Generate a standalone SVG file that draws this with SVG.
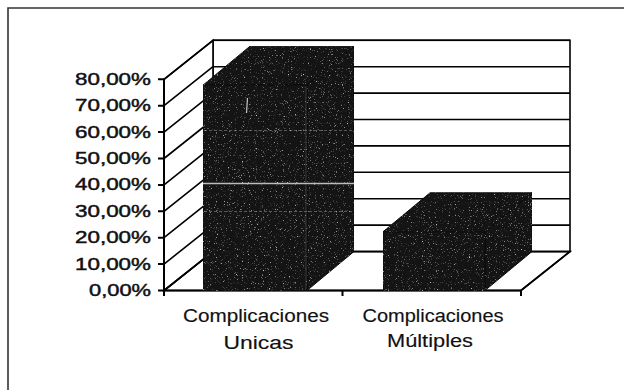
<svg xmlns="http://www.w3.org/2000/svg" width="624" height="390" viewBox="0 0 624 390">
  <defs>
    <filter id="speck" x="0" y="0" width="100%" height="100%" color-interpolation-filters="sRGB">
      <feTurbulence type="fractalNoise" baseFrequency="0.85" numOctaves="2" seed="7" result="noise"/>
      <feColorMatrix in="noise" type="matrix" values="0 0 0 0 0.8  0 0 0 0 0.8  0 0 0 0 0.8  4 0 0 0 -2.5" result="dots"/>
      <feComposite in="dots" in2="SourceAlpha" operator="in" result="d2"/>
      <feMerge><feMergeNode in="SourceGraphic"/><feMergeNode in="d2"/></feMerge>
    </filter>
  </defs>
  <style>
    .frame { fill: none; stroke: #333; stroke-width: 1.6; }
    .wall { fill: #fff; stroke: #000; stroke-width: 1.6; }
    .grid { stroke: #000; stroke-width: 1.6; fill: none; }
    .axis { stroke: #000; stroke-width: 2; fill: none; }
    .bar { fill: #141414; stroke: #0a0a0a; stroke-width: 1; }
    .sheen { stroke: #d8d8d8; fill: none; }
    .ylab { font-family: "Liberation Sans", Arial, sans-serif; font-size: 16.5px; fill: #111; text-anchor: end; stroke: #111; stroke-width: 0.45; }
    .xlab { font-family: "Liberation Sans", Arial, sans-serif; font-size: 17.5px; fill: #111; text-anchor: middle; stroke: #111; stroke-width: 0.15; }
  </style>

  <rect width="624" height="390" fill="#fff"/>

  <g id="frame">
    <path class="frame" d="M8,390 V8 H624"/>
  </g>

  <g id="walls">
    <polygon class="wall" points="164,290.5 521,290.5 570,251.5 213,251.5"/>
    <rect class="wall" x="213" y="40.3" width="357" height="211.2"/>
    <polygon class="wall" points="164,79.3 213,40.3 213,251.5 164,290.5"/>
  </g>

  <g id="gridlines">
    <path class="grid" d="M213,40.3 H570 M213,66.7 H570 M213,93.1 H570 M213,119.5 H570 M213,145.9 H570 M213,172.3 H570 M213,198.7 H570 M213,225.1 H570 M213,251.5 H570"/>
    <path class="grid" d="M164,79.3 L213,40.3 M164,105.7 L213,66.7 M164,132.1 L213,93.1 M164,158.5 L213,119.5 M164,184.9 L213,145.9 M164,211.3 L213,172.3 M164,237.7 L213,198.7 M164,264.1 L213,225.1 M164,290.5 L213,251.5"/>
    <path class="grid" d="M521,290.5 L570,251.5"/>
  </g>

  <g id="axes">
    <path class="axis" d="M164,79.3 V291.5 M163,290.5 H521"/>
    <path class="axis" d="M158,79.3 H164 M158,105.7 H164 M158,132.1 H164 M158,158.5 H164 M158,184.9 H164 M158,211.3 H164 M158,237.7 H164 M158,264.1 H164 M158,290.5 H164"/>
    <path class="axis" d="M164,290.5 V296 M342.5,290.5 V296 M521,290.5 V296"/>
  </g>

  <g id="bar-unicas" filter="url(#speck)">
    <polygon class="bar" points="203,85.2 307,85.2 354,46.2 250,46.2"/>
    <polygon class="bar" points="307,85.2 354,46.2 354,251.5 307,290.5"/>
    <rect class="bar" x="203" y="85.2" width="104" height="205.3"/>
  </g>
  <g id="bar-unicas-sheen">
    <path class="sheen" stroke-width="1.6" opacity="0.85" d="M203,183.5 H354"/>
    <path class="sheen" stroke-width="1" opacity="0.35" stroke-dasharray="3 2" d="M204,130.5 H354 M204,211.5 H354"/>
    <path class="sheen" stroke-width="1" opacity="0.22" d="M306,86 V289"/>
    <path class="sheen" stroke-width="1.2" opacity="0.9" d="M247.5,98 L246.5,113"/>
  </g>

  <g id="bar-multiples" filter="url(#speck)">
    <polygon class="bar" points="383,231.8 485,231.8 532,192.8 430,192.8"/>
    <polygon class="bar" points="485,231.8 532,192.8 532,251.5 485,290.5"/>
    <rect class="bar" x="383" y="231.8" width="102" height="58.7"/>
  </g>

  <g id="y-labels">
    <text class="ylab" x="151" y="84.8" textLength="76" lengthAdjust="spacingAndGlyphs">80,00%</text>
    <text class="ylab" x="151" y="111.2" textLength="76" lengthAdjust="spacingAndGlyphs">70,00%</text>
    <text class="ylab" x="151" y="137.6" textLength="76" lengthAdjust="spacingAndGlyphs">60,00%</text>
    <text class="ylab" x="151" y="164" textLength="76" lengthAdjust="spacingAndGlyphs">50,00%</text>
    <text class="ylab" x="151" y="190.4" textLength="76" lengthAdjust="spacingAndGlyphs">40,00%</text>
    <text class="ylab" x="151" y="216.8" textLength="76" lengthAdjust="spacingAndGlyphs">30,00%</text>
    <text class="ylab" x="151" y="243.2" textLength="76" lengthAdjust="spacingAndGlyphs">20,00%</text>
    <text class="ylab" x="151" y="269.6" textLength="76" lengthAdjust="spacingAndGlyphs">10,00%</text>
    <text class="ylab" x="151" y="296" textLength="62" lengthAdjust="spacingAndGlyphs">0,00%</text>
  </g>

  <g id="x-labels">
    <text class="xlab" x="256" y="321.5" textLength="146" lengthAdjust="spacingAndGlyphs">Complicaciones</text>
    <text class="xlab" x="258.5" y="349" textLength="70" lengthAdjust="spacingAndGlyphs">Unicas</text>
    <text class="xlab" x="433" y="321.5" textLength="141" lengthAdjust="spacingAndGlyphs">Complicaciones</text>
    <text class="xlab" x="430" y="347" textLength="86" lengthAdjust="spacingAndGlyphs">Múltiples</text>
  </g>
</svg>
